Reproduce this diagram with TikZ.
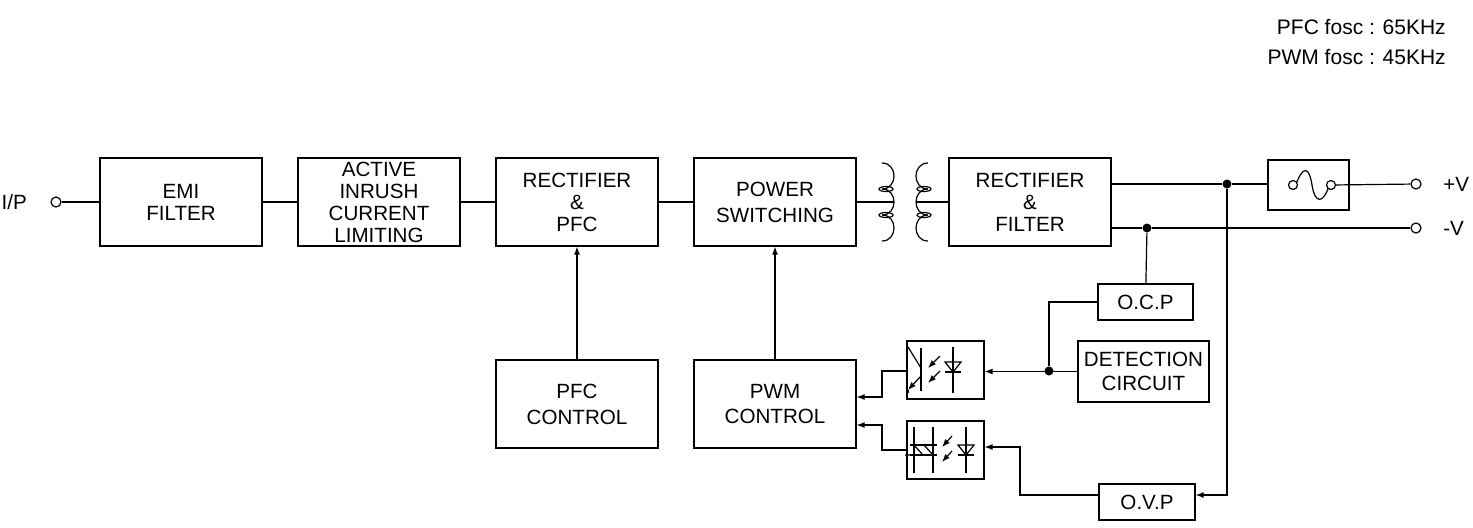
\documentclass[tikz,border=0pt]{standalone}
\usepackage{fontspec}
\setmainfont{Liberation Sans}
\usetikzlibrary{arrows.meta}
\begin{document}
\begin{tikzpicture}[x=0.5pt,y=-0.5pt,line width=0.6pt,
    blk/.style={draw, minimum width=81pt, minimum height=44pt, inner sep=0pt, align=center, font=\fontsize{10.3}{11}\selectfont},
    sblk/.style={draw, inner sep=0pt, align=center, font=\fontsize{10.3}{12}\selectfont},
    arr/.style={-{Latex[length=4pt,width=3pt]}},
    term/.style={circle, draw, fill=white, inner sep=0pt, minimum size=5pt},
    dot/.style={circle, fill, inner sep=0pt, minimum size=4.5pt}]
    % Canvas
    \useasboundingbox (0,0) rectangle (1473,527);

    % Main chain
    \node[blk] (emi) at (181,202) {EMI\\FILTER};
    \node[blk] (inr) at (379,202) {ACTIVE\\INRUSH\\CURRENT\\LIMITING};
    \node[blk] (rpfc) at (577,202) {RECTIFIER\\\&\\PFC};
    \node[blk] (psw) at (775,202) {POWER\\[2pt]SWITCHING};
    \node[blk] (rflt) at (1030,202) {RECTIFIER\\\&\\FILTER};
    \node[blk] (pfcc) at (577,404) {PFC\\[2pt]CONTROL};
    \node[blk] (pwmc) at (775,404) {PWM\\[2pt]CONTROL};

    % Protection blocks
    \node[sblk, minimum width=47.5pt, minimum height=18pt] (ocp) at (1145.5,302) {O.C.P};
    \node[sblk, minimum width=65.5pt, minimum height=30.5pt] (det) at (1143.5,371.5) {DETECTION\\CIRCUIT};
    \node[sblk, minimum width=48pt, minimum height=18pt] (ovp) at (1147,502) {O.V.P};
    \node[draw, minimum width=40.5pt, minimum height=25pt, inner sep=0pt] (fuse) at (1308.5,185) {};
    \node[draw, minimum width=38.5pt, minimum height=29pt, inner sep=0pt] (opt1) at (945.5,370) {};
    \node[draw, minimum width=38.5pt, minimum height=29pt, inner sep=0pt] (opt2) at (945.5,450) {};

    % Terminals and labels
    \node[term] (ip) at (56,202) {};
    \node[anchor=east, font=\fontsize{10.3}{12}\selectfont] (iplbl) at (34,202) {I/P};
    \node[term] (vp) at (1416,184) {};
    \node[term] (vn) at (1416,228) {};
    \node[anchor=west, font=\fontsize{10.3}{12}\selectfont] (vplbl) at (1436,184) {+V};
    \node[anchor=west, font=\fontsize{10.3}{12}\selectfont] (vnlbl) at (1436,228) {-V};
    \node[anchor=east, align=right, font=\fontsize{10.5}{15}\selectfont] (fosc) at (1453,42) {PFC fosc : 65KHz\\PWM fosc : 45KHz};

    % Junctions
    \node[dot] (jp) at (1227,184) {};
    \node[dot] (jn) at (1147,228) {};
    \node[dot] (jd) at (1049,371) {};

    % Transformer
    \coordinate (tp) at (880,202);
    \coordinate (ts) at (930,202);
    \foreach \yy in {163,189,215} {
        \draw (882,\yy) .. controls (898,\yy) and (898,\yy+26) .. (882,\yy+26);
        \draw (928,\yy) .. controls (912,\yy) and (912,\yy+26) .. (928,\yy+26);
    }
    \foreach \yy in {189,215} {
        \draw (886,\yy) ellipse (7 and 2.5);
        \draw (924,\yy) ellipse (7 and 2.5);
    }
    \draw (880,202) -- (894,202);
    \draw (916,202) -- (930,202);

    % Fuse element
    \draw (1296,184) .. controls (1303,166) and (1309,166) .. (1312,185)
        .. controls (1315,204) and (1323,204) .. (1329,186);
    \node[term, minimum size=4.5pt] (f1) at (1293,185) {};
    \node[term, minimum size=4.5pt] (f2) at (1331,185) {};

    % Optocoupler 1 (transistor output)
    \draw (921,348) -- (921,391);
    \draw (908,347) -- (921,368);
    \draw[arr] (921,376) -- (908,390);
    \draw (908,390) -- (908,393);
    \foreach \yy in {356,371} \draw[arr] (940,\yy) -- (928,\yy+12);
    \draw (953,347) -- (953,393);
    \draw (945,362) -- (961,362) -- (953,372) -- cycle;
    \draw (945,372) -- (961,372);

    % Optocoupler 2 (triac output)
    \draw (914,427) -- (914,473);
    \draw (933,427) -- (933,473);
    \draw (910,445) -- (937,445);
    \draw (910,455) -- (937,455);
    \draw (914,445) -- (923,455) -- (905,455);
    \draw (933,455) -- (924,445);
    \foreach \yy in {436,451} \draw[arr] (952,\yy) -- (942,\yy+11);
    \draw (966,427) -- (966,473);
    \draw (958,445) -- (974,445) -- (966,455) -- cycle;
    \draw (958,455) -- (974,455);

    % Power path
    \draw (ip) -- (emi);
    \draw (emi) -- (inr);
    \draw (inr) -- (rpfc);
    \draw (rpfc) -- (psw);
    \draw (psw.east) -- (tp);
    \draw (ts) -- (rflt.west);
    \draw (rflt.east |- jp) -- (jp) -- (fuse.west |- jp);
    \draw (f2) -- (vp);
    \draw (rflt.east |- jn) -- (jn) -- (vn);

    % Control loops
    \draw[arr] (pfcc) -- (rpfc);
    \draw[arr] (pwmc) -- (psw);
    \draw (jn) -- (ocp);
    \draw (ocp.west) -| (jd);
    \draw[arr] (det.west) -- (opt1.east |- det.west);
    \draw[arr] (jp) |- (ovp.east |- 495,495);
    \draw[arr] (ovp.west |- 495,495) -| (1020,447) -- (opt2.east |- 0,447);
    \draw[arr] (opt1.west |- 0,371) -| (882,397) -- (pwmc.east |- 0,397);
    \draw[arr] (opt2.west |- 0,450) -| (882,425) -- (pwmc.east |- 0,425);
\end{tikzpicture}
\end{document}
